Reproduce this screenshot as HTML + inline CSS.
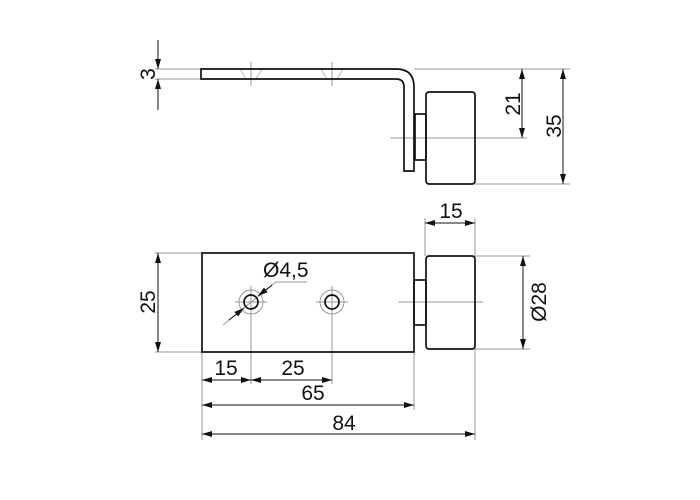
<!DOCTYPE html>
<html><head><meta charset="utf-8"><style>body{margin:0;background:#fff}svg{display:block}text{font-family:"Liberation Sans",sans-serif;fill:#111}</style></head><body>
<svg width="700" height="500" viewBox="0 0 700 500">
<defs><marker id="a" viewBox="0 0 10 6" refX="10" refY="3" markerWidth="10" markerHeight="6" orient="auto-start-reverse" markerUnits="userSpaceOnUse"><path d="M0,0L10,3L0,6z" fill="#111"/></marker></defs>
<g fill="none" stroke="#999" stroke-width="1">
<line x1="155" y1="69" x2="201" y2="69"/><line x1="155" y1="79" x2="201" y2="79"/>
<line x1="414" y1="69" x2="570" y2="69"/><line x1="475" y1="184" x2="570" y2="184"/>
<line x1="390" y1="138" x2="527" y2="138"/>
<line x1="251" y1="62" x2="251" y2="86"/><line x1="332" y1="62" x2="332" y2="86"/>
<line x1="155" y1="253" x2="202" y2="253"/><line x1="155" y1="352" x2="202" y2="352"/>
<line x1="475" y1="256" x2="530" y2="256"/><line x1="475" y1="349" x2="530" y2="349"/>
<line x1="202" y1="352" x2="202" y2="440"/><line x1="251" y1="290" x2="251" y2="384"/><line x1="332" y1="290" x2="332" y2="384"/>
<line x1="414" y1="352" x2="414" y2="410"/><line x1="425" y1="218" x2="425" y2="256"/><line x1="475" y1="218" x2="475" y2="440"/>
<line x1="398" y1="302" x2="483" y2="302"/>
<line x1="235" y1="302" x2="267" y2="302"/><line x1="316" y1="302" x2="348" y2="302"/>
<line x1="332" y1="286" x2="332" y2="318"/><line x1="251" y1="286" x2="251" y2="318"/>
<circle cx="251" cy="302" r="12"/><circle cx="332" cy="302" r="12"/>
<polyline points="223,325 276,282 307,282"/>
<path d="M240,69 L246,79 L256,79 L262,69 M321,69 L327,79 L337,79 L343,69" stroke="#bbb"/>
</g>
<g fill="none" stroke="#111" stroke-width="1.7">
<path d="M201,69 H396 Q414,69 414,87 V171 H404 V87 Q404,79 396,79 H201 Z"/>
<rect x="426" y="92" width="49" height="92" rx="3"/>
<rect x="415" y="114" width="11" height="46"/>
<rect x="202" y="253" width="212" height="99"/>
<rect x="426" y="256" width="49" height="93" rx="3"/>
<rect x="414" y="280" width="12" height="45"/>
<circle cx="251" cy="302" r="7"/>
<circle cx="332" cy="302" r="7"/>
</g>
<g stroke="#111" stroke-width="1" fill="none">
<line x1="158" y1="40" x2="158" y2="69" marker-end="url(#a)"/><line x1="158" y1="110" x2="158" y2="79" marker-end="url(#a)"/>
<line x1="522" y1="69" x2="522" y2="138" marker-start="url(#a)" marker-end="url(#a)"/>
<line x1="563" y1="69" x2="563" y2="184" marker-start="url(#a)" marker-end="url(#a)"/>
<line x1="425" y1="223" x2="475" y2="223" marker-start="url(#a)" marker-end="url(#a)"/>
<line x1="158" y1="253" x2="158" y2="352" marker-start="url(#a)" marker-end="url(#a)"/>
<line x1="523" y1="256" x2="523" y2="349" marker-start="url(#a)" marker-end="url(#a)"/>
<line x1="202" y1="380" x2="251" y2="380" marker-start="url(#a)" marker-end="url(#a)"/>
<line x1="251" y1="380" x2="332" y2="380" marker-start="url(#a)" marker-end="url(#a)"/>
<line x1="202" y1="405" x2="414" y2="405" marker-start="url(#a)" marker-end="url(#a)"/>
<line x1="202" y1="434" x2="475" y2="434" marker-start="url(#a)" marker-end="url(#a)"/>
<line x1="229" y1="320" x2="244" y2="308" marker-end="url(#a)"/><line x1="272" y1="285" x2="258" y2="296" marker-end="url(#a)"/>
</g>
<g font-size="21">
<text transform="translate(155,74) rotate(-90)" text-anchor="middle">3</text>
<text transform="translate(520,104) rotate(-90)" text-anchor="middle">21</text>
<text transform="translate(561,126) rotate(-90)" text-anchor="middle">35</text>
<text x="451" y="218" text-anchor="middle">15</text>
<text transform="translate(155,302) rotate(-90)" text-anchor="middle">25</text>
<text transform="translate(546,302) rotate(-90)" text-anchor="middle">Ø28</text>
<text x="263" y="277">Ø4,5</text>
<text x="226" y="375" text-anchor="middle">15</text>
<text x="293" y="375" text-anchor="middle">25</text>
<text x="313" y="400" text-anchor="middle">65</text>
<text x="344" y="430" text-anchor="middle">84</text>
</g>
</svg>
</body></html>
